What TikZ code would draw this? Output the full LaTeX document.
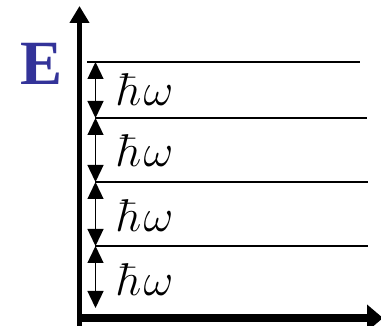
\documentclass[tikz,border=0pt]{standalone}
\usepackage{fix-cm}
\usepackage{fontspec}
\newfontfamily\efont{Liberation Serif}
\usetikzlibrary{arrows.meta}
\definecolor{eblue}{RGB}{51,51,153}
\begin{document}
\begin{tikzpicture}[x=1pt,y=-1pt,
  axisv/.style={line width=5pt,-{Triangle[width=19pt,length=17pt]}},
  axish/.style={line width=7.5pt,-{Triangle[width=26pt,length=16pt]}},
  level/.style={line width=1.6pt},
  gap/.style={line width=1.3pt,{Triangle[width=16pt,length=17pt]}-{Triangle[width=16pt,length=17pt]}},
  quantum/.style={anchor=base west,inner sep=0pt,font=\fontsize{46}{50}\selectfont}]
\useasboundingbox (0,0) rectangle (381,326);
% axes
\coordinate (vb) at (79.5,330);
\coordinate (vt) at (79.5,6);
\coordinate (hl) at (77,318);
\coordinate (hr) at (383,318);
\draw[axisv] (vb) -- (vt);
\draw[axish] (hl) -- (hr);
% E label
\node[anchor=base west,inner sep=0pt,text=eblue,font=\efont\bfseries\fontsize{63}{66}\selectfont] (E) at (20,84.3) {E};
% levels
\coordinate (l1a) at (87,62);  \coordinate (l1b) at (360,62);
\coordinate (l2a) at (95,118); \coordinate (l2b) at (367,118);
\coordinate (l3a) at (95,182); \coordinate (l3b) at (368,182);
\coordinate (l4a) at (95,246); \coordinate (l4b) at (368,246);
\draw[level] (l1a) -- (l1b);
\draw[level] (l2a) -- (l2b);
\draw[level] (l3a) -- (l3b);
\draw[level] (l4a) -- (l4b);
% gap arrows
\coordinate (g1) at (95.5,62);
\coordinate (g2) at (95.5,118);
\coordinate (g3) at (95.5,182);
\coordinate (g4) at (95.5,246);
\coordinate (g5) at (95.5,308);
\draw[gap] (g1) -- (g2);
\draw[gap] (g2) -- (g3);
\draw[gap] (g3) -- (g4);
\draw[gap] (g4) -- (g5);
% labels
\node[quantum] (q1) at (117,106) {$\hbar\mkern1mu\omega$};
\node[quantum] (q2) at (117,167) {$\hbar\mkern1mu\omega$};
\node[quantum] (q3) at (117,232) {$\hbar\mkern1mu\omega$};
\node[quantum] (q4) at (117,296) {$\hbar\mkern1mu\omega$};
\end{tikzpicture}
\end{document}
